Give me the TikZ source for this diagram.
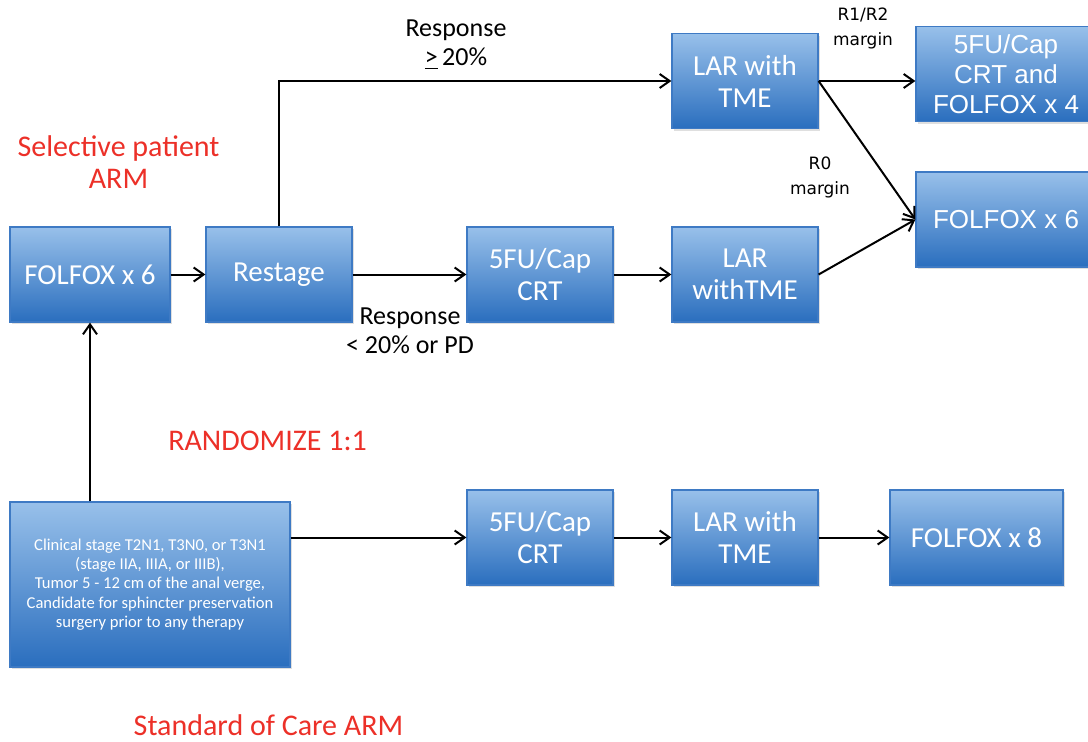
\documentclass[tikz,border=0pt]{standalone}
\usepackage{fontspec}
\setmainfont{Carlito}
\newfontfamily\arialfont{Liberation Sans}
\newfontfamily\marginfont{DejaVu Sans}
\usetikzlibrary{arrows.meta,shadows}
\definecolor{armred}{RGB}{236,48,40}
\definecolor{boxtop}{RGB}{152,192,234}
\definecolor{boxbot}{RGB}{42,110,190}
\definecolor{boxline}{RGB}{62,122,196}

\begin{document}
\begin{tikzpicture}[x=0.5pt,y=-0.5pt,>={Straight Barb[length=5pt,width=7pt]},line width=1pt,
  stage/.style={draw=boxline,line width=0.6pt,top color=boxtop,bottom color=boxbot,text=white,align=center,
    inner sep=0pt,minimum width=73pt,minimum height=47.5pt,font=\fontsize{14.5}{16}\selectfont,
    drop shadow={opacity=0.25,shadow xshift=1pt,shadow yshift=-1pt}},
  widestage/.style={stage,minimum width=90pt,font=\arialfont\fontsize{13}{15}\selectfont},
  arm/.style={text=armred,align=center,font=\fontsize{15}{16}\selectfont},
  resp/.style={align=center,font=\fontsize{13}{14.5}\selectfont},
  margin/.style={align=center,font=\marginfont\fontsize{8.5}{12.5}\selectfont}]
  \useasboundingbox (0,0) rectangle (1088,741);
  % selective patient arm
  \node[stage,minimum width=80pt] (folfox) at (90,274.5) {FOLFOX x 6};
  \node[stage] (restage) at (279,274.5) {Restage};
  \node[stage] (crtlow) at (540,274.5) {5FU/Cap\\CRT};
  \node[stage] (larlow) at (745,274.5) {LAR\\withTME};
  \node[stage] (larhigh) at (745,81) {LAR with\\TME};
  \node[widestage] (crtfolfox) at (1006,74) {5FU/Cap\\CRT and\\FOLFOX x 4};
  \node[widestage] (folfoxend) at (1006,219.5) {FOLFOX x 6};
  % standard of care arm
  \node[stage,minimum width=140pt,minimum height=82.5pt,font=\fontsize{8.3}{9.6}\selectfont] (clinical) at (150,584.5)
    {Clinical stage T2N1, T3N0, or T3N1\\(stage IIA, IIIA, or IIIB),\\Tumor 5 - 12 cm of the anal verge,\\Candidate for sphincter preservation\\surgery prior to any therapy};
  \node[stage] (crtstd) at (540,537.5) {5FU/Cap\\CRT};
  \node[stage] (larstd) at (745,537.5) {LAR with\\TME};
  \node[stage,minimum width=86.5pt] (folfoxstd) at (976.5,537.5) {FOLFOX x 8};
  % labels
  \node[arm] (selective) at (118.5,162) {Selective patient\\ARM};
  \node[arm] (randomize) at (267.5,441) {RANDOMIZE 1:1};
  \node[arm] (standard) at (268.5,725) {Standard of Care ARM};
  \node[resp] (respgood) at (456,45) {Response\\\underline{>}\,20\%};
  \node[resp] (respbad) at (410,331) {Response\\< 20\% or PD};
  \node[margin] (rmargin) at (863,28) {R1/R2\\margin};
  \node[margin] (r0margin) at (820,177) {R0\\margin};
  % connectors
  \draw[->] (folfox) -- (restage);
  \draw[->] (restage.north) |- (larhigh.west);
  \draw[->] (restage) -- (crtlow);
  \draw[->] (crtlow) -- (larlow);
  \draw[->] (larlow.east) -- (folfoxend.west);
  \draw[->] (larhigh.east) -- (larhigh.east -| crtfolfox.west);
  \draw[->] (larhigh.east) -- (folfoxend.west);
  \draw[->] (folfox.south |- clinical.north) -- (folfox.south);
  \draw[->] (clinical.east |- crtstd.west) -- (crtstd.west);
  \draw[->] (crtstd) -- (larstd);
  \draw[->] (larstd) -- (folfoxstd);
\end{tikzpicture}
\end{document}
